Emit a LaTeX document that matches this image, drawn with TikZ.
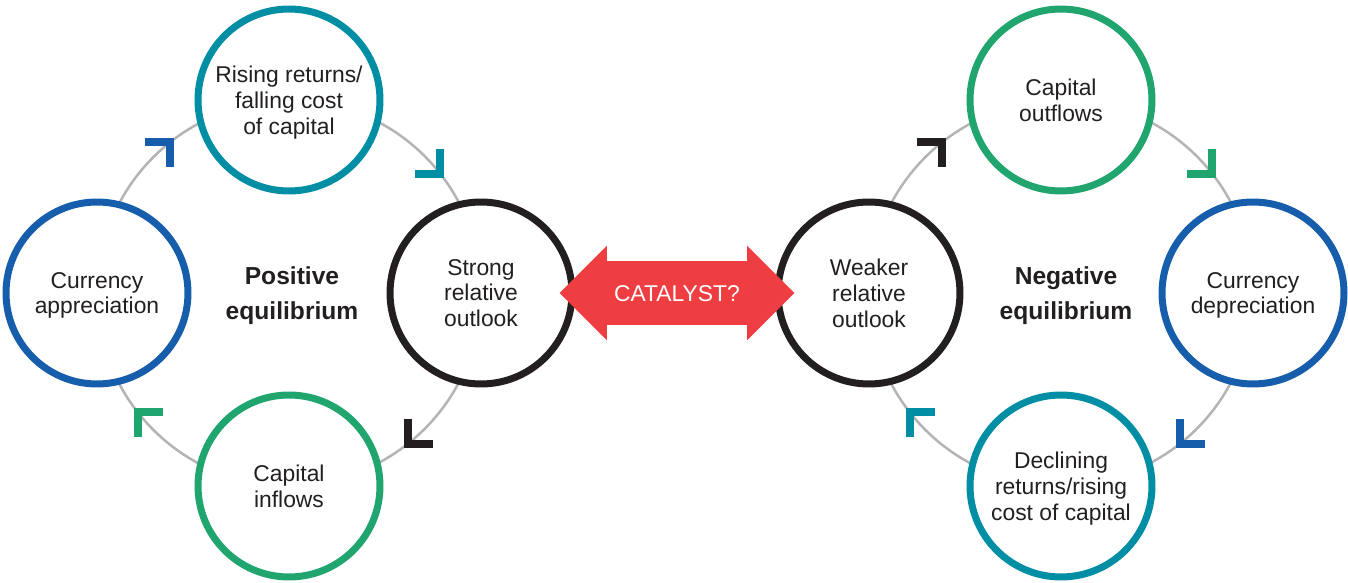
\documentclass[tikz,border=0pt]{standalone}
\usepackage{fontspec}
\setmainfont{Liberation Sans}
\usetikzlibrary{shapes.arrows}
\usetikzlibrary{backgrounds}
\usetikzlibrary{calc}
\definecolor{cblue}{RGB}{22,94,172}
\definecolor{cteal}{RGB}{0,142,165}
\definecolor{cgreen}{RGB}{32,165,110}
\definecolor{cdark}{RGB}{35,31,32}
\definecolor{cred}{RGB}{238,62,66}
\definecolor{cgrey}{RGB}{180,180,180}

\tikzset{
  stage/.style={circle, draw, fill=white, line width=0.14cm, minimum size=3.64cm, inner sep=0pt, align=center, text=cdark, text depth=0pt, font=\fontsize{13}{14.7}\selectfont},
  eqlabel/.style={align=center, text=cdark, text depth=0pt, font=\bfseries\fontsize{14}{19.8}\selectfont},
  ring/.style={cgrey, line width=0.05cm},
  chev/.style={line width=0.16cm},
  catalyst/.style={double arrow, fill=cred, text=white, minimum height=4.7cm, double arrow head extend=0.31cm, double arrow tip angle=90, text height=0.33cm, text depth=0pt, inner ysep=0.465cm, inner xsep=0pt, font=\fontsize{13}{14.7}\selectfont}
}

\begin{document}
\begin{tikzpicture}[x=0.02cm,y=0.02cm]
\useasboundingbox (0,0) rectangle (1348,582);

\coordinate (lc) at (289,289);
\coordinate (rc) at (1061,289);

\node[stage, draw=cblue] (ca) at (97,289) {Currency\\appreciation};
\node[stage, draw=cteal] (rr) at (289,482) {Rising returns/\\falling cost\\of capital};
\node[stage, draw=cdark] (so) at (481,289) {Strong\\relative\\outlook};
\node[stage, draw=cgreen] (ci) at (289,96) {Capital\\inflows};
\node[eqlabel] (pos) at (292,289) {Positive\\equilibrium};

\node[stage, draw=cdark] (wo) at (869,289) {Weaker\\relative\\outlook};
\node[stage, draw=cgreen] (co) at (1061,482) {Capital\\outflows};
\node[stage, draw=cblue] (cd) at (1253,289) {Currency\\depreciation};
\node[stage, draw=cteal] (dr) at (1061,96) {Declining\\returns/rising\\cost of capital};
\node[eqlabel] (neg) at (1066,289) {Negative\\equilibrium};

\node[catalyst] (cat) at (677,289) {CATALYST?};

\begin{scope}[on background layer]
\draw[ring] (ca.center) arc[start angle=180, end angle=90, radius=192];
\draw[ring] (rr.center) arc[start angle=90, end angle=0, radius=192];
\draw[ring] (so.center) arc[start angle=0, end angle=-90, radius=192];
\draw[ring] (ci.center) arc[start angle=270, end angle=180, radius=192];

\draw[ring] (wo.center) arc[start angle=180, end angle=90, radius=192];
\draw[ring] (co.center) arc[start angle=90, end angle=0, radius=192];
\draw[ring] (cd.center) arc[start angle=0, end angle=-90, radius=192];
\draw[ring] (dr.center) arc[start angle=270, end angle=180, radius=192];
\end{scope}

\draw[chev, cblue, shift={($(lc)+(130:192)$)}] (-21,4) -- (4,4) -- (4,-21);
\draw[chev, cteal, shift={($(lc)+(40:192)$)}, rotate=-90] (-21,4) -- (4,4) -- (4,-21);
\draw[chev, cdark, shift={($(lc)+(-50:192)$)}, rotate=180] (-21,4) -- (4,4) -- (4,-21);
\draw[chev, cgreen, shift={($(lc)+(220:192)$)}, rotate=90] (-21,4) -- (4,4) -- (4,-21);

\draw[chev, cdark, shift={($(rc)+(130:192)$)}] (-21,4) -- (4,4) -- (4,-21);
\draw[chev, cgreen, shift={($(rc)+(40:192)$)}, rotate=-90] (-21,4) -- (4,4) -- (4,-21);
\draw[chev, cblue, shift={($(rc)+(-50:192)$)}, rotate=180] (-21,4) -- (4,4) -- (4,-21);
\draw[chev, cteal, shift={($(rc)+(220:192)$)}, rotate=90] (-21,4) -- (4,4) -- (4,-21);

\end{tikzpicture}
\end{document}
